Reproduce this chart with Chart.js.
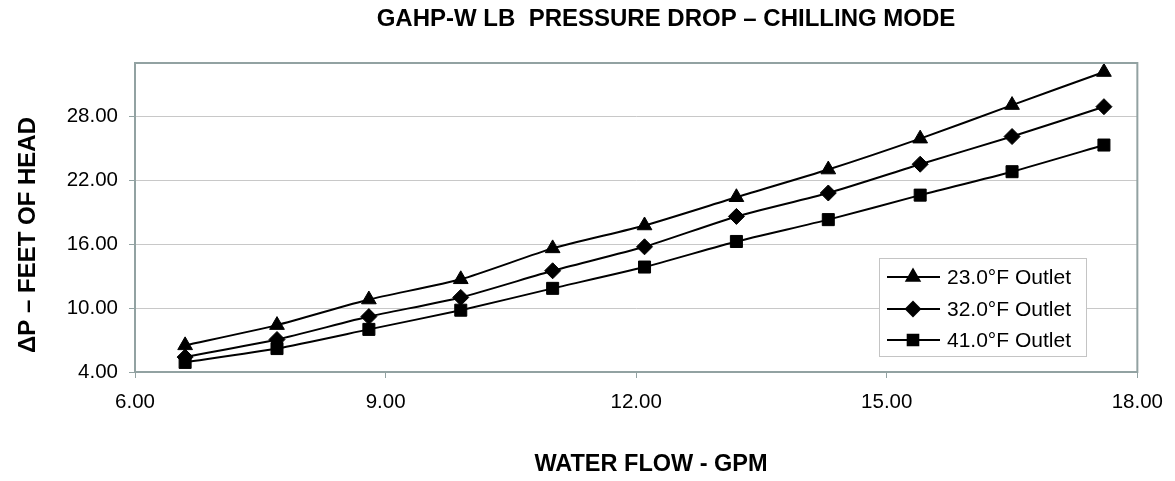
<!DOCTYPE html>
<html>
<head>
<meta charset="utf-8">
<title>GAHP-W LB Pressure Drop – Chilling Mode</title>
<script src="https://cdn.jsdelivr.net/npm/chart.js@4/dist/chart.umd.min.js"></script>
<style>
  html, body { margin: 0; padding: 0; background: #fff; }
  #wrap { width: 1175px; height: 481px; }
</style>
</head>
<body>
<div id="wrap"><canvas id="chart" width="1175" height="481"></canvas></div>
<script>
  /* ── Data ──────────────────────────────────────────────────────────── */
  const FLOW_GPM   = [6.6, 7.7, 8.8, 9.9, 11.0, 12.1, 13.2, 14.3, 15.4, 16.5, 17.6];
  const DP_23F     = [6.5, 8.4, 10.8, 12.7, 15.6, 17.75, 20.4, 23.0, 25.9, 29.05, 32.15];
  const DP_32F     = [5.4, 7.05, 9.2, 11.0, 13.5, 15.75, 18.6, 20.8, 23.5, 26.1, 28.9];
  const DP_41F     = [4.9, 6.2, 8.0, 9.8, 11.85, 13.85, 16.25, 18.3, 20.6, 22.8, 25.3];
  const SERIES_LABELS = ['23.0°F Outlet', '32.0°F Outlet', '41.0°F Outlet'];
  const X_TICKS = [6, 9, 12, 15, 18];
  const Y_TICKS = [4, 10, 16, 22, 28];

  const TITLE   = 'GAHP-W LB  PRESSURE DROP – CHILLING MODE';
  const X_TITLE = 'WATER FLOW - GPM';
  const Y_TITLE = 'ΔP – FEET OF HEAD';

  const FONT = '"Liberation Sans", Arial, Helvetica, sans-serif';
  const FRAME = '#92a2a2';

  function toPoints(ys) {
    return FLOW_GPM.map((x, i) => ({ x, y: ys[i] }));
  }

  function series(label, ys, style, radius) {
    return {
      label,
      data: toPoints(ys),
      borderColor: '#000',
      backgroundColor: '#000',
      borderWidth: 2,
      tension: 0.2,
      pointStyle: style,
      pointRadius: radius,
      pointBackgroundColor: '#000',
      pointBorderColor: '#000',
      pointBorderWidth: 1,
    };
  }

  /* ── Titles, frame and legend box ──────────────────────────────────── */
  const decorPlugin = {
    id: 'decor',
    afterDraw(chart) {
      const { ctx, chartArea: a } = chart;
      ctx.save();

      // plot frame
      ctx.strokeStyle = FRAME;
      ctx.lineWidth = 2;
      ctx.strokeRect(a.left, a.top, a.right - a.left, a.bottom - a.top);

      // titles
      ctx.fillStyle = '#000';
      ctx.textAlign = 'center';
      ctx.textBaseline = 'middle';
      ctx.font = 'bold 24px ' + FONT;
      ctx.fillText(TITLE, 666, 19);
      ctx.font = 'bold 23.5px ' + FONT;
      ctx.fillText(X_TITLE, 651, 465);
      ctx.font = 'bold 24px ' + FONT;
      ctx.translate(28, 235);
      ctx.rotate(-Math.PI / 2);
      ctx.fillText(Y_TITLE, 0, 0);
      ctx.restore();

      // legend
      ctx.save();
      const box = { x: 879, y: 258, w: 207, h: 98 };
      ctx.fillStyle = '#fff';
      ctx.fillRect(box.x, box.y, box.w, box.h);
      ctx.strokeStyle = '#c4c4c4';
      ctx.lineWidth = 1;
      ctx.strokeRect(box.x + 0.5, box.y + 0.5, box.w, box.h);
      const rows = [277, 309, 340];
      ctx.font = '21px ' + FONT;
      ctx.textAlign = 'left';
      ctx.textBaseline = 'middle';
      chart.data.datasets.forEach((ds, i) => {
        const y = rows[i];
        ctx.strokeStyle = '#000';
        ctx.lineWidth = 2;
        ctx.beginPath();
        ctx.moveTo(887, y);
        ctx.lineTo(940, y);
        ctx.stroke();
        ctx.fillStyle = '#000';
        Chart.helpers.drawPoint(ctx, {
          pointStyle: ds.pointStyle,
          radius: ds.pointRadius - 1,
          borderWidth: 1,
          rotation: 0,
        }, 913, y);
        ctx.fill();
        ctx.fillText(ds.label, 947, y + 1);
      });
      ctx.restore();
    },
  };

  new Chart(document.getElementById('chart'), {
    type: 'line',
    data: {
      datasets: [
        series(SERIES_LABELS[0], DP_23F, 'triangle', 8.5),
        series(SERIES_LABELS[1], DP_32F, 'rectRot', 8),
        series(SERIES_LABELS[2], DP_41F, 'rect', 8.5),
      ],
    },
    options: {
      responsive: false,
      animation: false,
      events: [],
      layout: { padding: { left: 0, top: 63, right: 35, bottom: 0 } },
      plugins: {
        legend: { display: false },
        title: { display: false },
        tooltip: { enabled: false },
      },
      scales: {
        x: {
          type: 'linear',
          min: 6,
          max: 18,
          afterFit: s => { s.height = 109; },
          afterBuildTicks: s => { s.ticks = X_TICKS.map(v => ({ value: v })); },
          grid: { drawOnChartArea: false, tickLength: 6, tickColor: FRAME },
          border: { color: FRAME, width: 2 },
          ticks: {
            padding: 12,
            color: '#000',
            font: { family: FONT, size: 20.5 },
            maxRotation: 0,
            callback: v => Number(v).toFixed(2),
          },
        },
        y: {
          type: 'linear',
          min: 4,
          max: 33,
          afterFit: s => { s.width = 135; },
          afterBuildTicks: s => { s.ticks = Y_TICKS.map(v => ({ value: v })); },
          grid: { color: '#c8c8c8', lineWidth: 1, tickLength: 6, tickColor: FRAME },
          border: { color: FRAME, width: 2 },
          ticks: {
            padding: 11,
            color: '#000',
            font: { family: FONT, size: 20.5 },
            callback: v => Number(v).toFixed(2),
          },
        },
      },
    },
    plugins: [decorPlugin],
  });
</script>
</body>
</html>
